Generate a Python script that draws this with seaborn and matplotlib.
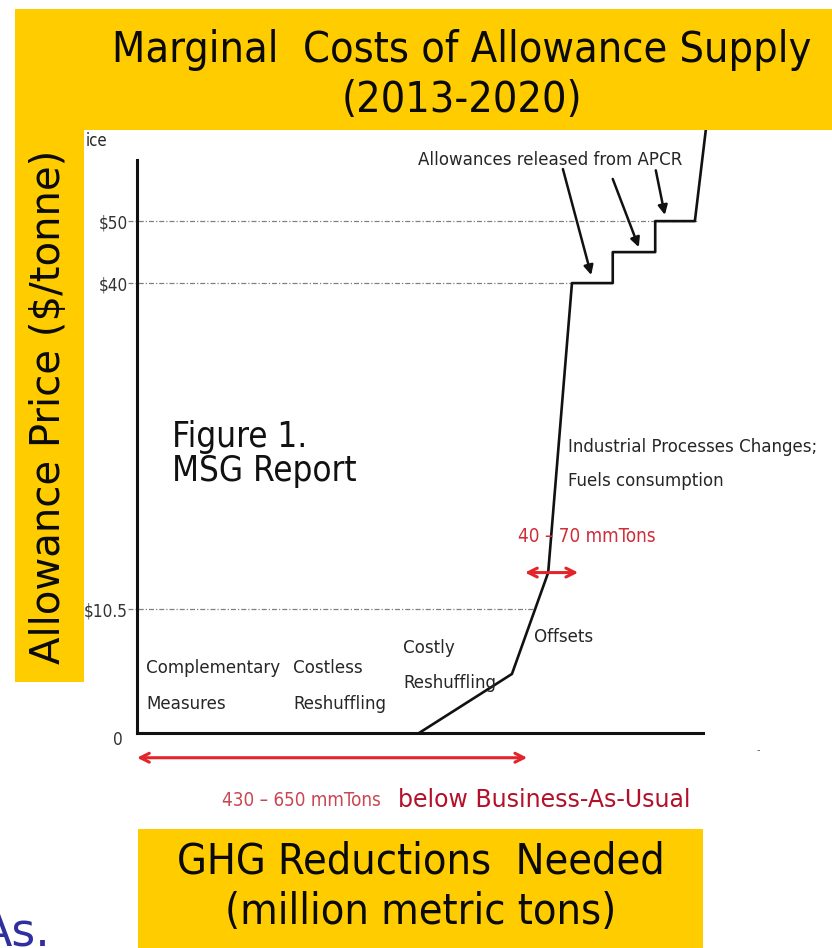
import numpy as np
import matplotlib
matplotlib.use("Agg")
import matplotlib.pyplot as plt
import seaborn as sns
from matplotlib.patches import Rectangle
from matplotlib.transforms import ScaledTranslation

# Marginal allowance supply curve: GHG reduction index vs allowance price ($/tonne)
reduction = [49.8, 66.2, 70.3, 72.6, 76.8, 84.0, 84.0, 91.5, 91.5, 98.5, 100.6]
price = [0, 5.0, 10.5, 13.8, 40, 40, 45, 45, 50, 50, 66]

# Price reference levels and the reduction where each meets the curve
ref_prices = [10.5, 40, 50]
ref_reach = [70.3, 76.8, 99.0]

price_ticks = [0, 10.5, 40, 50]
price_tick_labels = ["0", r"\$10.5", r"\$40", r"\$50"]

# APCR release arrows: tail (x, price) -> head (x, price)
apcr_tail_x = [75.2, 84.0, 91.6]
apcr_tail_p = [58.4, 56.8, 58.2]
apcr_head_x = [80.2, 88.6, 93.2]
apcr_head_p = [41.3, 45.8, 51.0]

# Reduction ranges shown with double arrows
offsets_span = [68.5, 77.9]
offsets_level = 13.8
total_span = [0, 68.9]

YELLOW = "#FFCC00"
INK = "#262626"
RED = "#e3242b"
COND = dict(family="DejaVu Sans", fontstretch="condensed")

sns.set_theme(style="white")
plt.rcParams["font.family"] = ["DejaVu Sans"]

W, H = 832, 948
fig = plt.figure(figsize=(W / 100, H / 100), dpi=100)
fig.patch.set_facecolor("white")


def fx(px):
    return px / W


def fy(py):
    return 1 - py / H


def ftext(px, py, s, **kw):
    return fig.text(fx(px), fy(py), s, **kw)


ax = fig.add_axes([fx(137), fy(733), (760 - 137) / W, (733 - 130) / H])
ax.set_facecolor("none")

# schematic (piecewise linear) price axis
scale_price = [-100, 0, 10.5, 40, 50, 200]
scale_pos = [-1181, 0, 124, 450, 512, 1442]


def fwd(v):
    return np.interp(v, scale_price, scale_pos)


def inv(p):
    return np.interp(p, scale_pos, scale_price)


ax.set_yscale("function", functions=(fwd, inv))
ax.set_xlim(0, 110)
ax.set_ylim(0, 64.7)

# dotted price reference lines
for p, xe in zip(ref_prices, ref_reach):
    ax.plot([-1.6, xe], [p, p], color="#808080", lw=0.9,
            linestyle=(0, (4, 1.6, 1, 1.6)), clip_on=False, zorder=1)

sns.lineplot(x=reduction, y=price, sort=False, estimator=None,
             color="#111111", lw=1.9, ax=ax, zorder=3)

for s in ["top", "right"]:
    ax.spines[s].set_visible(False)
for s in ["left", "bottom"]:
    ax.spines[s].set_linewidth(2.2)
    ax.spines[s].set_color("#111111")
ax.spines["left"].set_bounds(0, 59.8)
ax.spines["bottom"].set_bounds(0, 100)

ax.set_xticks([])
ax.set_yticks(price_ticks)
ax.set_yticklabels(price_tick_labels)
ax.tick_params(axis="y", length=0, pad=6.5, labelsize=12.3, labelcolor="#333333")
for lbl in ax.get_yticklabels():
    lbl.set_fontfamily("DejaVu Sans")
    lbl.set_fontstretch("condensed")
zero_lbl = ax.get_yticklabels()[0]
zero_lbl.set_transform(zero_lbl.get_transform()
                       + ScaledTranslation(-0.05, -0.05, fig.dpi_scale_trans))

# APCR arrows
for tx, tp, hx, hp in zip(apcr_tail_x, apcr_tail_p, apcr_head_x, apcr_head_p):
    ax.annotate("", xy=(hx, hp), xytext=(tx, tp),
                arrowprops=dict(arrowstyle="-|>", color="#111111", lw=1.8,
                                mutation_scale=14, shrinkA=0, shrinkB=0),
                annotation_clip=False)

# offsets range arrow
ax.annotate("", xy=(offsets_span[1], offsets_level), xytext=(offsets_span[0], offsets_level),
            arrowprops=dict(arrowstyle="<->", color=RED, lw=2.2,
                            mutation_scale=16, shrinkA=0, shrinkB=0),
            annotation_clip=False)

# total reductions range arrow, just below the axis
ax.annotate("", xy=(total_span[1], -0.041), xytext=(total_span[0], -0.041),
            xycoords=("data", "axes fraction"), textcoords=("data", "axes fraction"),
            arrowprops=dict(arrowstyle="<->", color=RED, lw=2.2,
                            mutation_scale=16, shrinkA=0, shrinkB=0),
            annotation_clip=False)

# chart labels
lab = dict(COND, color=INK, fontsize=13.3, va="center", ha="left")
ftext(550, 160, "Allowances released from APCR", **{**lab, "ha": "center"})
ftext(568, 447, "Industrial Processes Changes;", **lab)
ftext(568, 481, "Fuels consumption", **lab)
ftext(534, 637, "Offsets", **lab)
ftext(403, 648, "Costly", **lab)
ftext(403, 683, "Reshuffling", **lab)
ftext(146, 668, "Complementary", **lab)
ftext(146, 704, "Measures", **lab)
ftext(293, 668, "Costless", **lab)
ftext(293, 704, "Reshuffling", **lab)
ftext(518, 537, "40 \u2013 70 mmTons", **{**lab, "color": "#cf2d38", "fontsize": 13.5})
ftext(222, 800, "430 \u2013 650 mmTons", **{**lab, "color": "#c94653", "fontsize": 13.5})
ftext(398, 800, "below Business-As-Usual", family="DejaVu Sans", fontsize=17,
      color="#b3112a", va="center", ha="left")

fig_note = dict(COND, fontsize=25, color="#111111", va="center", ha="left")
ftext(172, 437, "Figure 1.", **fig_note)
ftext(172, 471, "MSG Report", **fig_note)

# fragment of an underlying axis title, partly hidden by the heading band
ftext(86, 141, "ice", **COND, fontsize=12, color=INK, va="center",
      ha="left", zorder=4)

# heading band
fig.add_artist(Rectangle((fx(15), fy(130)), fx(832) - fx(15), (130 - 9) / H,
                         transform=fig.transFigure, facecolor=YELLOW,
                         edgecolor="none", zorder=5))
head = dict(COND, fontsize=31, color="#0a0a0a", va="center", ha="center", zorder=6)
ftext(462, 50, "Marginal  Costs of Allowance Supply", **head)
ftext(462, 100, "(2013-2020)", **head)

# price axis title band
fig.add_artist(Rectangle((fx(15), fy(682)), fx(84) - fx(15), (682 - 130) / H,
                         transform=fig.transFigure, facecolor=YELLOW,
                         edgecolor="none", zorder=5))
ftext(49, 407, "Allowance Price ($/tonne)", family="DejaVu Sans", fontsize=29,
      rotation=90, color="#0a0a0a", va="center", ha="center", zorder=6)

# reductions axis title band
fig.add_artist(Rectangle((fx(138), fy(948)), fx(703) - fx(138), (948 - 829) / H,
                         transform=fig.transFigure, facecolor=YELLOW,
                         edgecolor="none", zorder=5))
ftext(421, 861, "GHG Reductions  Needed", **head)
ftext(421, 912, "(million metric tons)", **head)

ftext(-19, 946, "As.", family="DejaVu Sans", fontsize=33, color="#2f2f9f",
      va="baseline", ha="left")
ftext(758, 750, "-", family="DejaVu Sans", fontsize=7, color="#555555",
      va="center", ha="center")

fig.savefig("out.png", dpi=100, facecolor="white")
